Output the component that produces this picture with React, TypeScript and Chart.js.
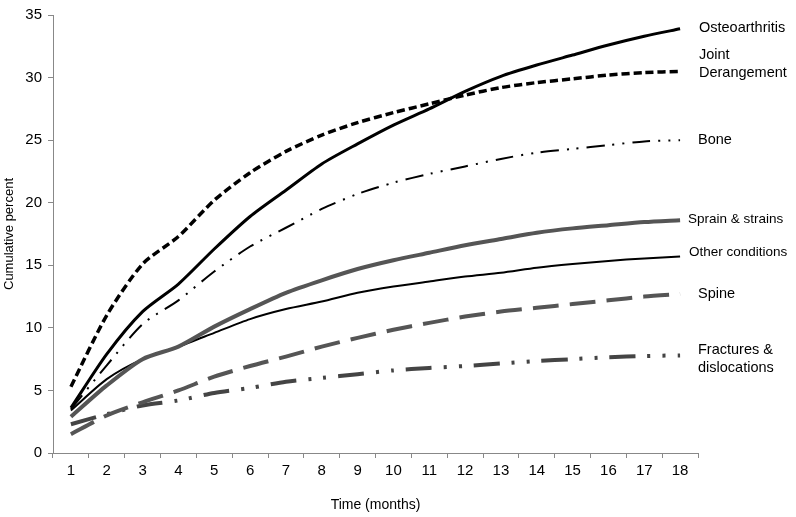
import React, { useEffect, useRef } from "react";
import { Chart, registerables } from "chart.js";

Chart.register(...registerables);

const months = ["1","2","3","4","5","6","7","8","9","10","11","12","13","14","15","16","17","18"];

const osteoarthritis = [3.6, 7.9, 11.3, 13.5, 16.3, 18.9, 21.0, 23.1, 24.7, 26.2, 27.5, 28.9, 30.1, 31.0, 31.8, 32.6, 33.3, 33.9];
const jointDerangement = [5.3, 11.0, 15.1, 17.3, 20.2, 22.4, 24.1, 25.4, 26.4, 27.2, 27.9, 28.6, 29.2, 29.6, 29.9, 30.2, 30.4, 30.5];
const bone = [3.5, 7.0, 10.3, 12.2, 14.5, 16.5, 18.0, 19.5, 20.7, 21.6, 22.3, 22.9, 23.5, 24.0, 24.3, 24.6, 24.9, 25.0];
const sprainStrains = [2.9, 5.4, 7.5, 8.5, 10.1, 11.5, 12.8, 13.8, 14.7, 15.4, 16.0, 16.6, 17.1, 17.6, 17.95, 18.2, 18.45, 18.6];
const otherConditions = [3.4, 5.9, 7.5, 8.5, 9.6, 10.7, 11.5, 12.1, 12.8, 13.3, 13.7, 14.1, 14.4, 14.8, 15.1, 15.35, 15.55, 15.7];
const spine = [1.5, 3.0, 4.05, 5.0, 6.1, 6.95, 7.7, 8.5, 9.2, 9.85, 10.4, 10.9, 11.3, 11.6, 11.9, 12.2, 12.5, 12.7];
const fractures = [2.3, 3.1, 3.8, 4.2, 4.8, 5.2, 5.7, 6.0, 6.3, 6.6, 6.8, 6.95, 7.15, 7.35, 7.5, 7.65, 7.75, 7.8];

const seriesNames = ["Osteoarthritis", "Joint Derangement", "Bone", "Sprain & strains", "Other conditions", "Spine", "Fractures & dislocations"];
const seriesLabelLines = [["Osteoarthritis"], ["Joint", "Derangement"], ["Bone"], ["Sprain & strains"], ["Other conditions"], ["Spine"], ["Fractures &", "dislocations"]];
const seriesLabelValues = [34.0, 31.05, 25.0, 18.7, 16.0, 12.7, 7.5];

const yTicks = [0, 5, 10, 15, 20, 25, 30, 35];

const FONT = "'Liberation Sans', Arial, Helvetica, sans-serif";

const labelPlugin = {
  id: "endLabels",
  afterDatasetsDraw(chart: any) {
    const ctx = chart.ctx;
    const xs = chart.scales.x;
    const ys = chart.scales.y;
    const styles = [
      { dx: 1, size: 14.5 },
      { dx: 1, size: 14.5 },
      { dx: 0, size: 14.5 },
      { dx: -10, size: 13.5 },
      { dx: -9, size: 13.5 },
      { dx: 0, size: 14.5 },
      { dx: 0, size: 14.5 },
    ];
    ctx.save();
    ctx.fillStyle = "#000";
    ctx.textBaseline = "middle";
    ctx.textAlign = "left";
    seriesLabelLines.forEach((lines, i) => {
      const st = styles[i];
      ctx.font = `${st.size}px ${FONT}`;
      const cy = ys.getPixelForValue(seriesLabelValues[i]);
      const lh = 18;
      const startY = cy - ((lines.length - 1) * lh) / 2;
      lines.forEach((t, j) => {
        ctx.fillText(t, xs.right + st.dx, startY + j * lh);
      });
    });
    ctx.restore();
  },
};

export default function App() {
  const ref = useRef<HTMLCanvasElement>(null);
  useEffect(() => {
    if (!ref.current) return;
    const data = [osteoarthritis, jointDerangement, bone, sprainStrains, otherConditions, spine, fractures];
    const styles = [
      { color: "#000", width: 3, dash: [] as number[] },
      { color: "#000", width: 3.5, dash: [8, 4] },
      { color: "#000", width: 2, dash: [18, 8, 2, 8, 2, 8] },
      { color: "#555", width: 4, dash: [] as number[] },
      { color: "#000", width: 2, dash: [] as number[] },
      { color: "#555", width: 4, dash: [26, 11] },
      { color: "#444", width: 4, dash: [26, 12, 3, 12, 3, 12] },
    ];
    const chart = new Chart(ref.current, {
      type: "line",
      data: {
        labels: months,
        datasets: data.map((d, i) => ({
          label: seriesNames[i],
          data: d,
          borderColor: styles[i].color,
          borderWidth: styles[i].width,
          borderDash: styles[i].dash,
          pointRadius: 0,
          tension: 0.25,
          fill: false,
        })),
      },
      options: {
        responsive: false,
        animation: false,
        layout: { padding: { top: 10, right: 98, left: 0, bottom: 0 } },
        plugins: { legend: { display: false }, tooltip: { enabled: false } },
        scales: {
          x: {
            offset: true,
            grid: { offset: true, drawOnChartArea: false, drawTicks: true, tickLength: 5, color: "#888" },
            border: { color: "#888", width: 1 },
            ticks: { color: "#000", font: { family: FONT, size: 15 }, padding: 4, maxRotation: 0, autoSkip: false },
            title: { display: true, text: "Time (months)", color: "#000", font: { family: FONT, size: 14 }, padding: { top: 4, bottom: 3 } },
            afterFit: (s: any) => { s.height = 64; },
          },
          y: {
            min: 0,
            max: 35,
            afterBuildTicks: (s: any) => { s.ticks = yTicks.map((v) => ({ value: v })); },
            grid: { drawOnChartArea: false, drawTicks: true, tickLength: 5, color: "#888" },
            border: { color: "#888", width: 1 },
            ticks: { color: "#000", font: { family: FONT, size: 15 }, padding: 6 },
            title: { display: true, text: "Cumulative percent", color: "#000", font: { family: FONT, size: 13 }, padding: { top: 2, bottom: 2 } },
            afterFit: (s: any) => { s.width = 53; },
          },
        },
      },
      plugins: [labelPlugin],
    });
    return () => chart.destroy();
  }, []);
  return (
    <div style={{ position: "fixed", left: 0, top: 0, width: 796, height: 517, background: "#fff" }}>
      <canvas ref={ref} width={796} height={517} style={{ width: 796, height: 517, display: "block" }} />
    </div>
  );
}
